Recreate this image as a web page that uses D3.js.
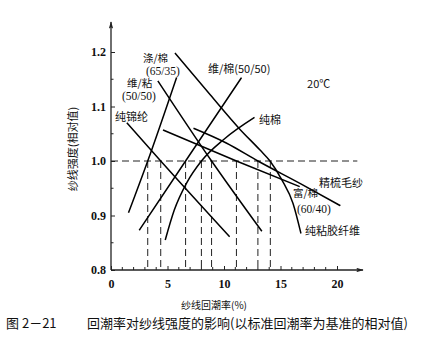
<!DOCTYPE html>
<html>
<head>
<meta charset="utf-8">
<script src="https://cdn.jsdelivr.net/npm/d3@7"></script>
<style>
  html, body { margin: 0; padding: 0; background: #fff; }
  svg { display: block; }
</style>
</head>
<body>
<svg id="chart" width="434" height="343"></svg>
<script>
// ---------------- data ----------------
const xTicks = [0, 5, 10, 15, 20];
const yTicks = [0.8, 0.9, 1.0, 1.1, 1.2];
const yTickLabels = ["0.8", "0.9", "1.0", "1.1", "1.2"];

// 涤/棉 (65/35)
const polyCottonX = [1.55, 3.25, 5.8];
const polyCottonY = [0.905, 1.0, 1.153];
// 维/粘 (50/50)
const vinylonViscoseX = [4.15, 8.9, 13.35];
const vinylonViscoseY = [1.147, 1.0, 0.871];
// 纯锦纶
const nylonX = [1.4, 4.4, 10.5];
const nylonY = [1.07, 1.0, 0.861];
// 维/棉 (50/50)
const vinylonCottonX = [2.5, 6.6, 11.55];
const vinylonCottonY = [0.873, 1.0, 1.153];
// 纯棉
const cottonX = [4.8, 5.6, 6.7, 8.0, 10.0, 12.7];
const cottonY = [0.855, 0.91, 0.96, 1.0, 1.04, 1.08];
// 精梳毛纱
const woolX = [7.3, 10.2, 13.0, 16.8, 20.3];
const woolY = [1.06, 1.033, 1.0, 0.958, 0.918];
// 富/棉 (60/40)
const polynosicCottonX = [4.6, 11.1, 16.7];
const polynosicCottonY = [1.057, 1.0, 0.953];
// 纯粘胶纤维
const viscoseX = [5.66, 8.76, 11.42, 13.19, 14.07, 15.13, 16.11, 16.81];
const viscoseY = [1.198, 1.122, 1.058, 1.02, 1.0, 0.965, 0.922, 0.867];

// standard-regain crossings at relative strength 1.0
const crossX = [3.25, 4.4, 6.6, 8.0, 8.9, 11.1, 13.0, 14.1];
const refLevel = 1.0;
const refLineEnd = 21.8;

const seriesNames = ["涤/棉", "维/粘", "纯锦纶", "维/棉", "纯棉", "精梳毛纱", "富/棉", "纯粘胶纤维"];
const seriesX = [polyCottonX, vinylonViscoseX, nylonX, vinylonCottonX, cottonX, woolX, polynosicCottonX, viscoseX];
const seriesY = [polyCottonY, vinylonViscoseY, nylonY, vinylonCottonY, cottonY, woolY, polynosicCottonY, viscoseY];

// single-line annotation texts and anchors (data coords)
const labelTexts = ["维/棉(50/50)", "纯锦纶", "纯棉", "20℃", "精梳毛纱", "纯粘胶纤维"];
const labelX = [8.58, 0.35, 13.1, 17.35, 18.4, 17.17];
const labelY = [1.161, 1.073, 1.068, 1.134, 0.952, 0.864];
// two-line annotation: name line and ratio line
const blendNames = ["涤/棉", "维/粘", "富/棉"];
const blendRatios = ["(65/35)", "(50/50)", "(60/40)"];
const blendX = [2.83, 1.42, 16.1];
const blendY = [1.182, 1.136, 0.934];
const ratioX = [3.1, 0.97, 16.46];
const ratioY = [1.158, 1.112, 0.905];

const xTitle = "纱线回潮率(%)";
const yTitle = "纱线强度(相对值)";
const captionNum = "图 2－21";
const captionText = "回潮率对纱线强度的影响(以标准回潮率为基准的相对值)";

// ---------------- layout ----------------
const svg = d3.select("#chart");
const x = d3.scaleLinear().domain([0, 20]).range([111, 337]);
const y = d3.scaleLinear().domain([0.8, 1.2]).range([270, 52]);
const xAxisEnd = 22.3;   // data units
const yAxisEnd = 1.255;

const cjk = "'Noto Sans CJK SC', sans-serif";
const serif = "'Liberation Serif', 'DejaVu Serif', serif";

// dashed reference lines
const dash = svg.append("g").attr("stroke", "#222").attr("stroke-width", 1).attr("stroke-dasharray", "7,4").attr("fill", "none");
dash.append("line")
  .attr("x1", x(0)).attr("x2", x(refLineEnd))
  .attr("y1", y(refLevel)).attr("y2", y(refLevel));
dash.selectAll("line.v").data(crossX).enter().append("line").attr("class", "v")
  .attr("x1", d => x(d)).attr("x2", d => x(d))
  .attr("y1", y(refLevel)).attr("y2", y(0.8));

// curves
const line = d3.line().x(d => x(d[0])).y(d => y(d[1])).curve(d3.curveMonotoneX);
const curves = svg.append("g").attr("fill", "none").attr("stroke", "#000").attr("stroke-width", 1.5);
seriesX.forEach((xs, i) => {
  const pts = xs.map((v, j) => [v, seriesY[i][j]]);
  curves.append("path").attr("d", line(pts)).attr("data-name", seriesNames[i]);
});

// axes
const axisColor = "#222";
const xAxis = d3.axisBottom(x).tickValues(xTicks).tickSizeInner(-4).tickSizeOuter(0).tickPadding(9).tickFormat(d3.format("d"));
const gx = svg.append("g").attr("transform", `translate(0,${y(0.8)})`).call(xAxis);
gx.select(".domain").remove();
gx.selectAll("text").attr("font-family", serif).attr("font-weight", "bold").attr("font-size", 12).attr("fill", "#111");
gx.selectAll("line").attr("stroke", axisColor);

const xMinor = d3.range(1, 21).filter(v => v % 5 !== 0);
svg.append("g").selectAll("line").data(xMinor).enter().append("line")
  .attr("x1", d => x(d)).attr("x2", d => x(d))
  .attr("y1", y(0.8)).attr("y2", y(0.8) - 3)
  .attr("stroke", axisColor).attr("stroke-width", 1);

const yAxis = d3.axisLeft(y).tickValues(yTicks).tickSizeInner(-4).tickSizeOuter(0).tickPadding(5)
  .tickFormat((d, i) => yTickLabels[i]);
const gy = svg.append("g").attr("transform", `translate(${x(0)},0)`).call(yAxis);
gy.select(".domain").remove();
gy.selectAll("text").attr("font-family", serif).attr("font-weight", "bold").attr("font-size", 12).attr("fill", "#111");
gy.selectAll("line").attr("stroke", axisColor);

const yMinor = [0.85, 0.95, 1.05, 1.15];
svg.append("g").selectAll("line").data(yMinor).enter().append("line")
  .attr("x1", x(0)).attr("x2", x(0) + 2.5)
  .attr("y1", d => y(d)).attr("y2", d => y(d))
  .attr("stroke", axisColor).attr("stroke-width", 1);

// axis lines with arrows
svg.append("defs").append("marker")
  .attr("id", "arrow").attr("viewBox", "0 0 10 6").attr("refX", 9).attr("refY", 3)
  .attr("markerWidth", 9).attr("markerHeight", 4.5).attr("markerUnits", "userSpaceOnUse")
  .attr("orient", "auto")
  .append("path").attr("d", "M0,0 L10,3 L0,6 L2,3 Z").attr("fill", axisColor);

svg.append("line").attr("x1", x(0)).attr("x2", x(xAxisEnd)).attr("y1", y(0.8)).attr("y2", y(0.8))
  .attr("stroke", axisColor).attr("stroke-width", 1.3).attr("marker-end", "url(#arrow)");
svg.append("line").attr("x1", x(0)).attr("x2", x(0)).attr("y1", y(0.8)).attr("y2", y(yAxisEnd))
  .attr("stroke", axisColor).attr("stroke-width", 1.3).attr("marker-end", "url(#arrow)");

// annotations
const ann = svg.append("g").attr("fill", "#111");
ann.selectAll("text.single").data(labelTexts).enter().append("text").attr("class", "single")
  .attr("x", (d, i) => x(labelX[i])).attr("y", (d, i) => y(labelY[i]))
  .attr("font-family", cjk).attr("font-size", 11)
  .text(d => d);
ann.selectAll("text.blend").data(blendNames).enter().append("text").attr("class", "blend")
  .attr("x", (d, i) => x(blendX[i])).attr("y", (d, i) => y(blendY[i]))
  .attr("font-family", cjk).attr("font-size", 10.5)
  .text(d => d);
ann.selectAll("text.ratio").data(blendRatios).enter().append("text").attr("class", "ratio")
  .attr("x", (d, i) => x(ratioX[i])).attr("y", (d, i) => y(ratioY[i]))
  .attr("font-family", serif).attr("font-size", 11.5)
  .text(d => d);

// titles
svg.append("text").attr("x", 214).attr("y", 309).attr("text-anchor", "middle")
  .attr("font-family", cjk).attr("font-size", 10).attr("fill", "#111").text(xTitle);
svg.append("text").attr("transform", "translate(77,149) rotate(-90)").attr("text-anchor", "middle")
  .attr("font-family", cjk).attr("font-size", 11).attr("fill", "#111").text(yTitle);

svg.append("text").attr("x", 6).attr("y", 328)
  .attr("font-family", cjk).attr("font-size", 13).attr("fill", "#111").text(captionNum);
svg.append("text").attr("x", 87).attr("y", 328)
  .attr("font-family", cjk).attr("font-size", 13).attr("fill", "#111").text(captionText);
</script>
</body>
</html>
